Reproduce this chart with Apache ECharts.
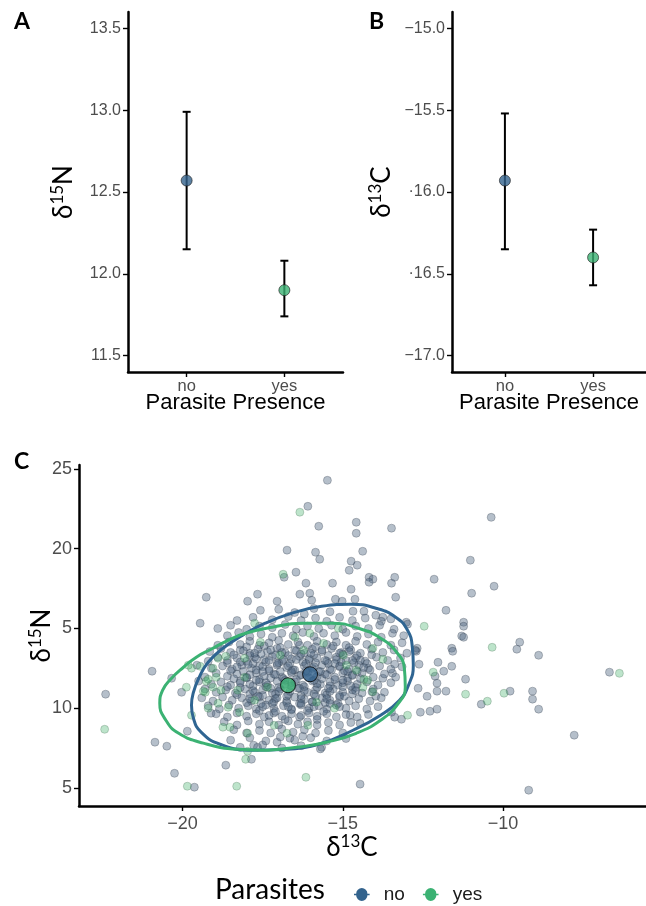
<!DOCTYPE html>
<html><head><meta charset="utf-8">
<script src="https://cdn.jsdelivr.net/npm/echarts@6/dist/echarts.min.js"></script>
<style>html,body{margin:0;padding:0;background:#fff}#c{width:646px;height:906px}</style>
</head><body><div id="c"></div>
<script>
// ---------- data ----------
const categories = ['no', 'yes'];
const d15NMean = [12.57, 11.90];
const d15NLow  = [12.15, 11.74];
const d15NHigh = [12.99, 12.08];
const d13CMean = [-15.93, -16.40];
const d13CLow  = [-16.35, -16.57];
const d13CHigh = [-15.52, -16.23];

const ticksA = [11.5, 12.0, 12.5, 13.0, 13.5];
const tickLabelsA = ['11.5', '12.0', '12.5', '13.0', '13.5'];
const ticksB = [-17.0, -16.5, -16.0, -15.5, -15.0];
const tickLabelsB = ['\u221217.0', '\u00b716.5', '\u00b716.0', '\u221215.5', '\u221215.0'];
const ticksCx = [-20, -15, -10];
const tickLabelsCx = ['\u221220', '\u221215', '\u221210'];
const ticksCy = [5, 10, 15, 20, 25];
const tickLabelsCy = ['5', '10', '5', '20', '25'];

const meanNo = [-16.02, 12.13];
const meanYes = [-16.71, 11.44];

const ellipseNo = [[-16.74,7.43],[-17.82,7.37],[-18.83,7.74],[-19.42,8.50],[-19.66,9.37],[-19.72,10.19],[-19.66,11.00],[-19.48,11.94],[-19.20,12.88],[-18.74,13.76],[-18.12,14.58],[-17.42,15.33],[-16.58,15.96],[-15.66,16.39],[-14.74,16.52],[-13.97,16.27],[-13.35,15.71],[-12.98,14.89],[-12.83,13.82],[-12.80,12.70],[-12.95,11.44],[-13.23,10.50],[-13.82,9.56],[-14.68,8.62],[-15.75,7.74],[-16.74,7.43]];
const ellipseYes = [[-17.35,7.37],[-18.28,7.43],[-19.35,7.81],[-20.12,8.43],[-20.52,9.25],[-20.71,10.31],[-20.62,11.13],[-20.37,11.82],[-19.97,12.57],[-19.57,13.20],[-19.11,13.70],[-18.58,14.26],[-18.03,14.70],[-17.20,15.08],[-16.28,15.33],[-15.35,15.33],[-14.52,15.02],[-13.82,14.39],[-13.32,13.51],[-13.08,12.51],[-13.05,11.32],[-13.29,10.25],[-13.82,9.25],[-14.58,8.43],[-15.51,7.87],[-16.43,7.55],[-17.35,7.37]];

const pointsNo = [
[-15.48,24.29],[-16.09,22.66],[-15.75,21.41],[-14.58,21.66],[-14.58,20.97],[-13.48,21.29],[-10.37,21.97],[-16.74,19.91],[-15.85,19.78],[-15.72,19.34],[-14.38,19.84],[-14.74,19.22],[-14.55,18.97],[-14.80,18.65],[-11.02,19.28],[-16.83,18.21],[-16.46,18.53],[-14.18,18.21],[-14.06,18.09],[-14.18,17.90],[-13.38,18.21],[-13.48,17.84],[-12.15,18.09],[-16.15,17.84],[-15.32,17.84],[-14.74,17.46],[-10.28,17.65],[-10.98,17.21],[-16.34,17.15],[-16.03,17.21],[-15.97,16.77],[-15.23,16.83],[-15.02,16.71],[-14.62,16.83],[-13.35,16.96],[-11.78,16.14],[-14.68,16.08],[-14.34,16.08],[-13.97,15.83],[-13.75,15.71],[-11.23,15.39],[-11.23,15.14],[-11.29,14.53],[-11.23,14.45],[-13.02,15.39],[-12.98,15.27],[-9.48,14.14],[-9.57,13.70],[-8.89,13.32],[-11.60,13.76],[-11.57,13.57],[-12.68,13.76],[-12.71,13.57],[-12.03,12.88],[-12.62,12.76],[-11.60,12.63],[-11.85,12.32],[-11.17,11.82],[-6.68,12.26],[-10.68,10.25],[-9.78,11.07],[-9.08,11.07],[-9.08,10.57],[-8.89,9.94],[-7.78,8.31],[-9.20,4.86],[-14.46,5.24],[-12.12,12.01],[-12.06,11.57],[-11.78,11.07],[-12.06,11.07],[-12.37,10.75],[-12.65,11.25],[-12.58,9.75],[-12.28,9.81],[-12.06,9.94],[-13.17,9.31],[-13.38,9.44],[-13.48,9.75],[-15.66,7.55],[-16.25,8.24],[-14.46,9.06],[-14.77,9.56],[-14.09,11.03],[-13.97,10.75],[-13.75,11.88],[-13.45,12.20],[-13.38,12.76],[-12.74,13.64],[-20.95,12.32],[-22.40,10.88],[-20.86,7.87],[-20.49,7.62],[-19.85,8.56],[-20.25,5.92],[-19.63,5.05],[-18.65,6.43],[-20.34,11.88],[-20.03,11.00],[-19.26,16.96],[-19.45,15.33],[-17.97,16.71],[-17.66,17.15],[-17.05,16.71],[-17.57,16.14],[-17.85,6.80],[-17.78,7.68],[-17.66,7.55],[-17.05,7.87],[-16.65,8.12],[-19.11,9.69],
[-17.0,16.2],[-16.5,16.0],[-15.9,16.25],[-15.4,16.05],[-16.2,15.9],
[-18.3,15.5],[-17.8,15.7],[-17.2,15.55],[-16.7,15.75],[-16.3,15.5],[-15.85,15.65],[-15.5,15.45],[-15.1,15.7],[-14.7,15.5],[-14.3,15.65],[-13.8,15.45],[-13.5,15.6],
[-18.9,15.0],[-18.5,15.2],[-18.0,14.95],[-17.6,15.15],[-17.2,15.05],[-16.8,15.25],[-16.45,14.95],[-16.1,15.15],[-15.75,15.0],[-15.35,15.2],[-15.0,14.95],[-14.6,15.15],[-14.2,15.0],[-13.85,15.2],[-13.4,14.95],
[-18.6,14.55],[-18.25,14.75],[-17.9,14.5],[-17.55,14.65],[-17.2,14.45],[-16.9,14.7],[-16.55,14.55],[-16.25,14.75],[-15.9,14.5],[-15.6,14.7],[-15.25,14.55],[-14.9,14.75],[-14.55,14.5],[-14.2,14.65],[-13.8,14.45],[-13.45,14.7],[-13.1,14.55],
[-18.9,13.95],[-18.55,14.15],[-18.2,14.0],[-17.9,14.2],[-17.6,13.95],[-17.3,14.1],[-17.0,14.25],[-16.7,14.0],[-16.4,14.15],[-16.1,13.95],[-15.8,14.2],[-15.5,14.0],[-15.2,14.15],[-14.9,13.95],[-14.6,14.2],[-14.25,14.0],[-13.9,14.15],[-13.5,13.95],[-13.15,14.1],
[-19.15,13.55],[-18.8,13.75],[-18.5,13.5],[-18.2,13.65],[-17.9,13.45],[-17.65,13.7],[-17.35,13.55],[-17.05,13.75],[-16.8,13.5],[-16.5,13.65],[-16.2,13.45],[-15.95,13.7],[-15.65,13.55],[-15.35,13.75],[-15.05,13.5],[-14.75,13.65],[-14.45,13.45],[-14.1,13.7],[-13.75,13.5],[-13.4,13.65],[-13.0,13.45],
[-19.2,12.95],[-18.9,13.2],[-18.6,13.0],[-18.3,13.15],[-18.0,12.95],[-17.75,13.2],[-17.45,13.05],[-17.2,13.25],[-16.9,12.95],[-16.6,13.1],[-16.35,13.25],[-16.05,13.0],[-15.8,13.15],[-15.5,12.95],[-15.2,13.2],[-14.9,13.0],[-14.6,13.15],[-14.3,12.95],[-13.95,13.2],[-13.6,13.0],[-13.2,13.15],
[-19.55,12.7],[-19.1,12.5],[-18.75,12.65],[-18.45,12.45],[-18.15,12.7],[-17.85,12.5],[-17.6,12.65],[-17.3,12.45],[-17.05,12.7],[-16.75,12.55],[-16.5,12.4],[-16.2,12.65],[-15.95,12.5],[-15.65,12.7],[-15.4,12.45],[-15.1,12.6],[-14.8,12.45],[-14.5,12.7],[-14.2,12.5],[-13.85,12.65],[-13.5,12.45],[-13.15,12.6],
[-19.3,11.95],[-18.95,12.2],[-18.6,12.0],[-18.3,12.15],[-18.0,11.95],[-17.7,12.2],[-17.45,12.0],[-17.15,12.15],[-16.9,11.95],[-16.6,12.2],[-16.35,12.05],[-16.1,12.25],[-15.8,12.0],[-15.55,12.15],[-15.25,11.95],[-15.0,12.2],[-14.7,12.05],[-14.4,12.2],[-14.05,11.95],[-13.7,12.15],[-13.35,11.95],
[-19.5,11.7],[-19.1,11.5],[-18.8,11.65],[-18.5,11.45],[-18.2,11.7],[-17.9,11.5],[-17.6,11.65],[-17.35,11.45],[-17.05,11.7],[-16.8,11.5],[-16.5,11.65],[-16.25,11.45],[-15.95,11.7],[-15.7,11.5],[-15.4,11.65],[-15.15,11.45],[-14.85,11.7],[-14.55,11.5],[-14.25,11.65],[-13.9,11.45],[-13.5,11.6],
[-19.3,11.2],[-18.95,11.0],[-18.65,11.15],[-18.35,10.95],[-18.05,11.2],[-17.75,11.0],[-17.5,11.15],[-17.2,10.95],[-16.95,11.2],[-16.65,11.05],[-16.4,11.25],[-16.1,11.0],[-15.85,11.15],[-15.55,10.95],[-15.3,11.2],[-15.0,11.0],[-14.7,11.15],[-14.4,10.95],[-14.05,11.2],[-13.7,11.0],
[-19.4,10.65],[-19.05,10.45],[-18.75,10.7],[-18.45,10.5],[-18.15,10.65],[-17.85,10.45],[-17.6,10.7],[-17.3,10.5],[-17.05,10.65],[-16.75,10.45],[-16.5,10.7],[-16.2,10.55],[-15.95,10.4],[-15.65,10.65],[-15.4,10.5],[-15.1,10.7],[-14.8,10.45],[-14.5,10.6],[-14.15,10.45],[-13.8,10.65],
[-19.2,10.15],[-18.85,9.95],[-18.55,10.2],[-18.25,10.0],[-17.95,10.15],[-17.7,9.95],[-17.4,10.2],[-17.15,10.0],[-16.85,10.15],[-16.6,9.95],[-16.3,10.2],[-16.05,10.0],[-15.75,10.15],[-15.5,9.95],[-15.2,10.2],[-14.9,10.0],[-14.6,10.15],[-14.25,9.95],[-13.9,10.1],
[-18.95,9.65],[-18.6,9.45],[-18.3,9.7],[-18.0,9.5],[-17.7,9.65],[-17.45,9.45],[-17.15,9.7],[-16.9,9.5],[-16.6,9.65],[-16.35,9.45],[-16.05,9.7],[-15.8,9.5],[-15.5,9.65],[-15.2,9.45],[-14.9,9.6],[-14.55,9.45],[-14.2,9.6],
[-18.7,9.15],[-18.3,8.95],[-17.95,9.2],[-17.6,9.0],[-17.3,9.15],[-17.0,8.95],[-16.7,9.2],[-16.4,9.0],[-16.1,9.15],[-15.8,8.95],[-15.45,9.1],[-15.1,8.95],[-14.75,9.1],
[-18.4,8.65],[-18.0,8.45],[-17.6,8.6],[-17.25,8.45],[-16.9,8.7],[-16.55,8.5],[-16.2,8.65],[-15.85,8.45],[-15.45,8.6],[-15.0,8.45],
[-18.5,8.0],[-17.9,8.15],[-17.4,7.95],[-16.95,8.2],[-16.5,8.0],[-16.0,8.15],[-15.5,7.95],[-14.9,8.1],
[-18.2,7.55],[-17.5,7.7],[-16.9,7.5],[-16.3,7.65],[-15.7,7.45],
[-18.0,13.85],[-17.45,13.9],[-16.95,13.8],[-16.35,13.95],[-15.85,13.85],[-15.3,13.9],[-14.8,13.8],
[-18.4,13.35],[-17.9,13.3],[-17.55,13.4],[-17.1,13.35],[-16.7,13.3],[-16.3,13.4],[-15.9,13.35],[-15.45,13.3],[-15.0,13.4],[-14.55,13.3],[-14.1,13.35],
[-18.6,12.85],[-18.2,12.9],[-17.8,12.8],[-17.4,12.9],[-17.0,12.85],[-16.65,12.8],[-16.25,12.9],[-15.85,12.85],[-15.45,12.8],[-15.05,12.9],[-14.65,12.85],[-14.25,12.8],
[-18.5,12.35],[-18.1,12.3],[-17.7,12.4],[-17.3,12.35],[-16.95,12.3],[-16.55,12.4],[-16.15,12.35],[-15.75,12.3],[-15.35,12.4],[-14.95,12.35],[-14.55,12.3],[-14.15,12.4],
[-18.4,11.85],[-18.0,11.9],[-17.6,11.8],[-17.25,11.9],[-16.85,11.85],[-16.45,11.8],[-16.05,11.9],[-15.65,11.85],[-15.25,11.8],[-14.85,11.9],[-14.45,11.85],
[-18.6,11.35],[-18.2,11.3],[-17.8,11.4],[-17.4,11.35],[-17.0,11.3],[-16.6,11.4],[-16.2,11.35],[-15.8,11.3],[-15.4,11.4],[-15.0,11.35],[-14.6,11.3],
[-18.3,10.85],[-17.9,10.9],[-17.5,10.8],[-17.1,10.9],[-16.7,10.85],[-16.3,10.8],[-15.9,10.9],[-15.5,10.85],[-15.1,10.8],[-14.7,10.9],
[-18.0,10.35],[-17.55,10.3],[-17.15,10.4],[-16.75,10.35],[-16.35,10.3],[-15.95,10.4],[-15.55,10.35],[-15.15,10.3],
[-17.6,9.85],[-17.1,9.8],[-16.6,9.9],[-16.1,9.85],[-15.6,9.8],
[-18.1,13.6],[-17.7,13.1],[-17.25,13.65],[-16.85,13.05],[-16.45,13.6],[-16.05,13.1],[-15.65,13.65],[-15.2,13.05],[-14.8,13.55],[-14.45,13.0],
[-18.3,12.6],[-17.9,12.1],[-17.5,12.6],[-17.1,12.1],[-16.7,12.65],[-16.3,12.1],[-15.9,12.6],[-15.5,12.1],[-15.1,12.65],[-14.7,12.1],[-14.35,12.55],
[-18.2,11.6],[-17.8,11.1],[-17.4,11.6],[-17.0,11.05],[-16.6,11.6],[-16.2,11.1],[-15.8,11.55],[-15.4,11.05],[-15.0,11.6],[-14.6,11.1],
[-17.9,10.6],[-17.5,10.1],[-17.1,10.6],[-16.7,10.1],[-16.3,10.6],[-15.9,10.1],[-15.5,10.6],[-15.1,10.1],
[-17.3,9.55],[-16.8,9.3],[-16.3,9.55],[-15.8,9.3],
[-17.75,13.45],[-17.3,13.0],[-16.9,13.5],[-16.45,13.05],[-16.0,13.45],[-15.55,13.0],[-15.1,13.45],[-14.7,13.0],
[-17.95,12.75],[-17.5,12.3],[-17.05,12.8],[-16.6,12.3],[-16.15,12.8],[-15.7,12.3],[-15.25,12.8],[-14.85,12.3],
[-17.7,11.75],[-17.25,11.25],[-16.8,11.75],[-16.35,11.25],[-15.9,11.75],[-15.45,11.25],[-15.0,11.75],[-14.75,11.4],
[-17.65,10.75],[-17.2,10.3],[-16.75,10.75],[-16.3,10.3],[-15.85,10.75],[-15.4,10.3],[-14.95,10.75]
];

const pointsYes = [
[-16.34,22.29],[-16.86,18.40],[-12.46,15.14],[-10.34,13.82],[-12.18,12.26],[-6.37,12.19],[-11.17,10.88],[-10.49,10.44],[-9.97,10.94],[-12.98,9.56],[-16.09,8.93],[-16.15,5.67],[-22.43,8.68],[-19.85,5.11],[-18.31,5.11],[-18.03,6.80],[-17.97,7.30],[-14.34,11.82],[-14.37,11.32],[-19.72,12.51],[-19.45,12.63],[-19.26,11.69],[-19.29,11.00],[-19.05,11.32],[-19.88,11.32],[-19.05,12.51],[-14.06,13.76],
[-18.89,13.13],[-18.65,13.26],[-17.75,15.33],[-17.57,14.14],[-18.06,11.94],[-18.80,11.13],[-18.58,10.06],[-18.22,9.75],[-18.89,10.31],[-18.52,8.81],[-18.74,8.81],[-17.97,8.43],[-17.14,8.93],[-16.74,8.43],[-19.72,9.56],[-19.20,10.00],[-19.35,11.07],[-18.28,11.13],[-17.75,10.50],[-17.35,11.32],[-16.22,13.64],[-16.03,14.70],[-16.95,13.32],[-15.14,15.02],[-13.75,13.07],[-14.22,11.76],[-14.06,11.03],[-15.26,10.00],[-15.82,10.38],[-14.89,12.70],[-14.58,12.38],
[-19.82,12.70],[-18.06,13.13],[-16.49,14.45],[-15.60,14.07],[-14.98,13.32],[-18.95,11.94],[-19.20,11.82]
];

// ---------- styles ----------
const groupColors = ['#33638D', '#3BB273'];
const tickFont = 'Liberation Sans';
const titleFont = 'Lato';

function pick(ticks, labels) {
  return v => { const i = ticks.findIndex(t => Math.abs(t - v) < 1e-6); return i >= 0 ? labels[i] : ''; };
}
const richName = {
  d: { fontSize: 26, fontFamily: titleFont, color: '#000', lineHeight: 30 },
  s: { fontSize: 17, fontFamily: titleFont, color: '#000', verticalAlign: 'top', lineHeight: 18 }
};
const axLine = { show: true, onZero: false, lineStyle: { color: '#000', width: 2.5 } };
function tick(vals) { return { show: true, length: 5, customValues: vals, lineStyle: { color: '#000', width: 1.4 } }; }

function catX(gi) {
  return {
    type: 'value', gridIndex: gi, min: 0.4, max: 2.6,
    axisLine: axLine, axisTick: tick([1, 2]), splitLine: { show: false },
    axisLabel: { customValues: [1, 2], formatter: v => categories[Math.round(v) - 1], color: '#4D4D4D', fontSize: 16.5, fontFamily: tickFont, margin: 6 },
    name: 'Parasite Presence', nameLocation: 'middle', nameGap: 20, nameMoveOverlap: false,
    nameTextStyle: { fontSize: 22, color: '#000', fontFamily: tickFont }
  };
}
function valY(gi, min, max, ticks, labels, name, gap, fs) {
  return {
    type: 'value', gridIndex: gi, min: min, max: max,
    axisLine: axLine, axisTick: tick(ticks), splitLine: { show: false },
    axisLabel: { customValues: ticks, formatter: pick(ticks, labels), color: '#4D4D4D', fontSize: fs, fontFamily: tickFont, margin: 7 },
    name: name, nameLocation: 'middle', nameRotate: 90, nameGap: gap, nameMoveOverlap: false,
    nameTextStyle: { rich: richName }
  };
}
function errorBar(params, api) {
  const x = api.value(0), lo = api.value(1), hi = api.value(2);
  const a = api.coord([x, lo]), b = api.coord([x, hi]);
  const hw = 4, st = { stroke: '#000', lineWidth: 2 };
  return { type: 'group', children: [
    { type: 'line', shape: { x1: a[0], y1: a[1], x2: b[0], y2: b[1] }, style: st },
    { type: 'line', shape: { x1: a[0] - hw, y1: a[1], x2: a[0] + hw, y2: a[1] }, style: st },
    { type: 'line', shape: { x1: b[0] - hw, y1: b[1], x2: b[0] + hw, y2: b[1] }, style: st }
  ]};
}
const meanStyle = { color: p => groupColors[p.dataIndex], borderColor: '#1a1a1a', borderWidth: 0.8 };

const legendIcon = 'path://M0,5.5 H2.5 A6.5,6.5 0 0 1 15.5,5.5 H18 V7.5 H15.5 A6.5,6.5 0 0 1 2.5,7.5 H0 Z';
const letterStyle = { fontSize: 23, fontWeight: 'bold', fontFamily: titleFont, color: '#000' };

const option = {
  animation: false,
  backgroundColor: '#fff',
  title: [
    { text: 'A', left: 14, top: 10, padding: 0, textStyle: letterStyle },
    { text: 'B', left: 369, top: 10, padding: 0, textStyle: letterStyle },
    { text: 'C', left: 14, top: 450, padding: 0, textStyle: letterStyle },
    { text: 'Parasites', left: 215, top: 876, padding: 0, textStyle: { fontSize: 28, fontWeight: 'normal', fontFamily: titleFont, color: '#000' } }
  ],
  legend: {
    left: 349, top: 880, itemWidth: 18, itemHeight: 13, itemGap: 18, selectedMode: false,
    icon: legendIcon,
    data: [
      { name: 'no', itemStyle: { color: groupColors[0], borderWidth: 0, opacity: 1 } },
      { name: 'yes', itemStyle: { color: groupColors[1], borderWidth: 0, opacity: 1 } }
    ],
    textStyle: { fontSize: 19, color: '#1A1A1A', fontFamily: tickFont, padding: [0, 0, 0, 8] }
  },
  grid: [
    { left: 128, top: 12, width: 215, height: 360 },
    { left: 452, top: 12, width: 205, height: 360 },
    { left: 79, top: 465, width: 575, height: 341 }
  ],
  xAxis: [
    catX(0), catX(1),
    {
      type: 'value', gridIndex: 2, min: -23.23, max: -5.54,
      axisLine: axLine, axisTick: tick(ticksCx), splitLine: { show: false },
      axisLabel: { customValues: ticksCx, formatter: pick(ticksCx, tickLabelsCx), color: '#4D4D4D', fontSize: 18, fontFamily: tickFont, margin: 9 },
      name: '{d|\u03b4}{s|13}{d|C}', nameLocation: 'middle', nameGap: 27, nameMoveOverlap: false,
      nameTextStyle: { rich: richName, padding: [0, 21, 0, 0] }
    }
  ],
  yAxis: [
    valY(0, 11.4, 13.6, ticksA, tickLabelsA, '{d|\u03b4}{s|15}{d|N}', 49, 16),
    valY(1, -17.1, -14.9, ticksB, tickLabelsB, '{d|\u03b4}{s|13}{d|C}', 55, 16),
    valY(2, 3.87, 25.25, ticksCy, tickLabelsCy, '{d|\u03b4}{s|15}{d|N}', 22, 18)
  ],
  series: [
    { type: 'custom', name: 'errA', xAxisIndex: 0, yAxisIndex: 0, renderItem: errorBar, silent: true,
      encode: { x: 0, y: [1, 2] }, data: categories.map((c, i) => [i + 1, d15NLow[i], d15NHigh[i]]) },
    { type: 'scatter', name: 'meanA', xAxisIndex: 0, yAxisIndex: 0, symbolSize: 11, silent: true, z: 3,
      itemStyle: meanStyle, data: categories.map((c, i) => [i + 1, d15NMean[i]]) },
    { type: 'custom', name: 'errB', xAxisIndex: 1, yAxisIndex: 1, renderItem: errorBar, silent: true,
      encode: { x: 0, y: [1, 2] }, data: categories.map((c, i) => [i + 1, d13CLow[i], d13CHigh[i]]) },
    { type: 'scatter', name: 'meanB', xAxisIndex: 1, yAxisIndex: 1, symbolSize: 11, silent: true, z: 3,
      itemStyle: meanStyle, data: categories.map((c, i) => [i + 1, d13CMean[i]]) },
    { type: 'scatter', name: 'no', xAxisIndex: 2, yAxisIndex: 2, symbolSize: 8, silent: true,
      itemStyle: { color: 'rgba(78,100,128,0.52)', borderColor: 'rgba(40,50,65,0.5)', borderWidth: 0.7 }, data: pointsNo },
    { type: 'scatter', name: 'yes', xAxisIndex: 2, yAxisIndex: 2, symbolSize: 8, silent: true,
      itemStyle: { color: 'rgba(60,175,100,0.42)', borderColor: 'rgba(50,90,65,0.45)', borderWidth: 0.7 }, data: pointsYes },
    { type: 'line', name: 'no', xAxisIndex: 2, yAxisIndex: 2, smooth: 0.5, showSymbol: false, silent: true, z: 4,
      lineStyle: { color: '#2F6592', width: 3 }, data: ellipseNo },
    { type: 'line', name: 'yes', xAxisIndex: 2, yAxisIndex: 2, smooth: 0.5, showSymbol: false, silent: true, z: 4,
      lineStyle: { color: '#3BB273', width: 3 }, data: ellipseYes },
    { type: 'scatter', name: 'no', xAxisIndex: 2, yAxisIndex: 2, symbolSize: 15, silent: true, z: 5,
      itemStyle: { color: groupColors[0], borderColor: '#000', borderWidth: 1 }, data: [meanNo] },
    { type: 'scatter', name: 'yes', xAxisIndex: 2, yAxisIndex: 2, symbolSize: 15, silent: true, z: 5,
      itemStyle: { color: groupColors[1], borderColor: '#000', borderWidth: 1 }, data: [meanYes] }
  ]
};
const chart = echarts.init(document.getElementById('c'), null, { renderer: 'canvas' });
chart.setOption(option);
</script></body></html>
